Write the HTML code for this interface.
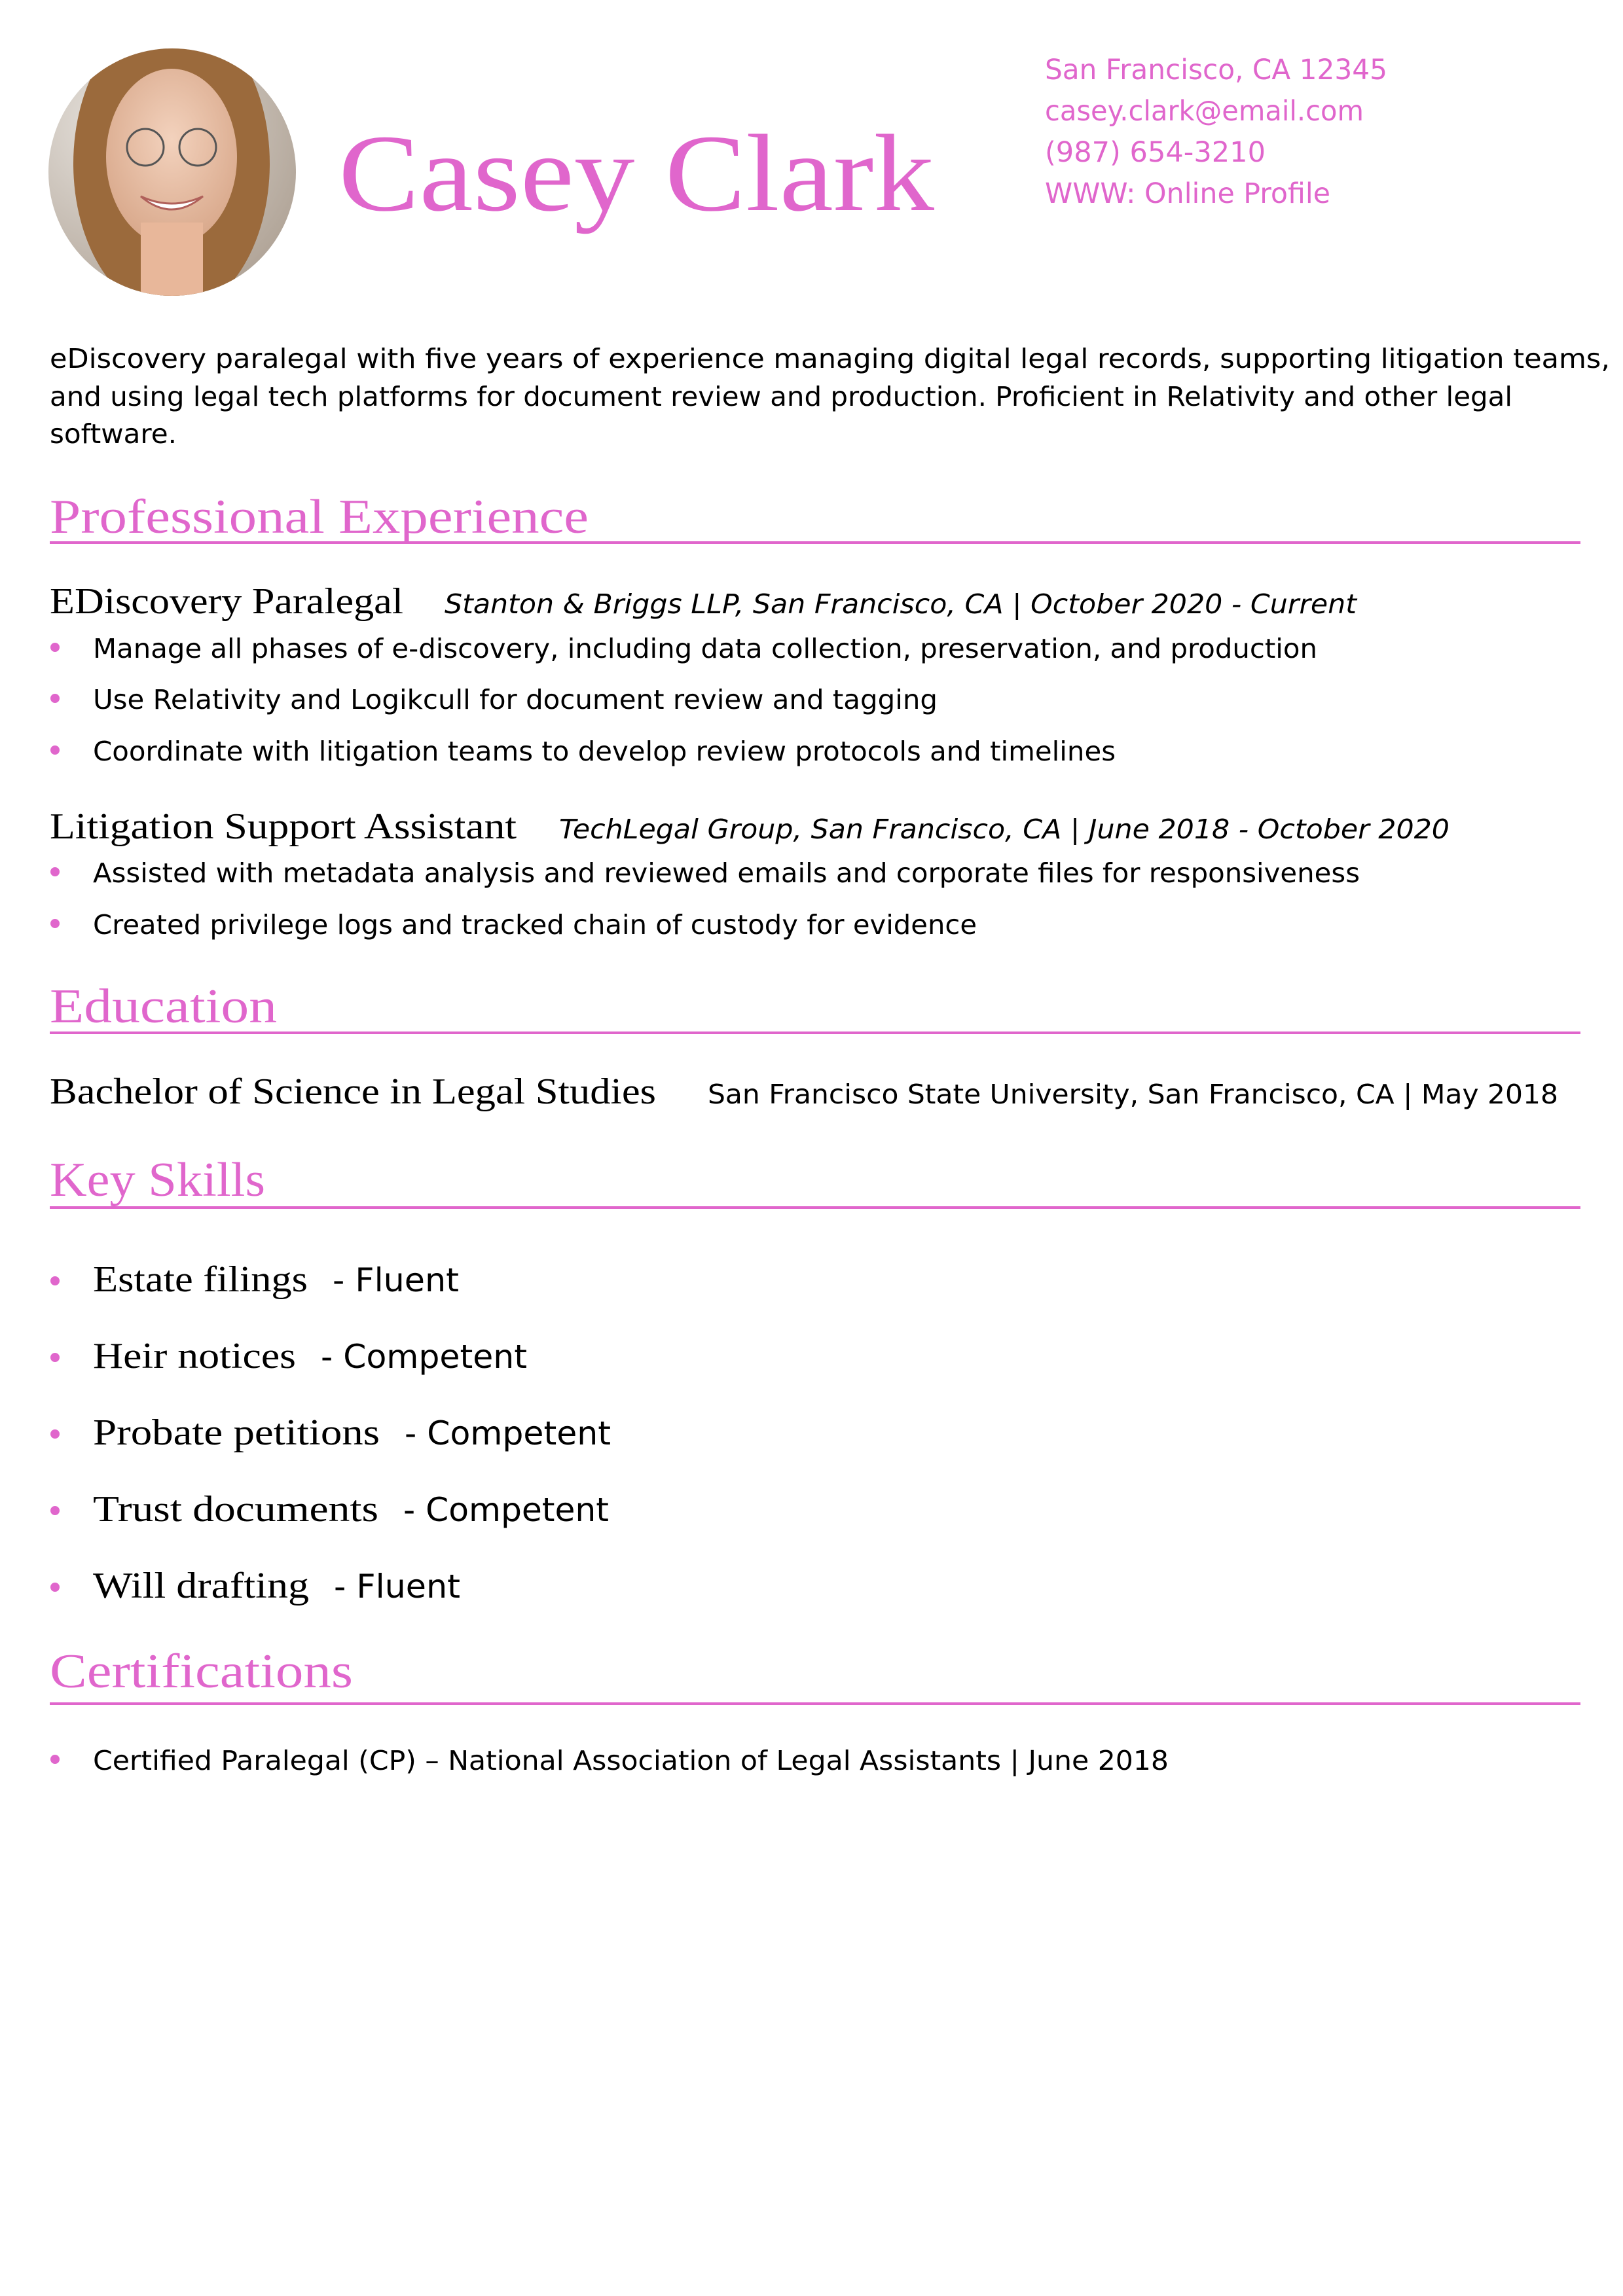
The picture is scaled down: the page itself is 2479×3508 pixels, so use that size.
<!DOCTYPE html>
<html><head><meta charset="utf-8"><style>
html,body{margin:0;padding:0;background:#fff;}
svg{display:block;}
.s{font-family:"Liberation Serif",serif;}
.d{font-family:"DejaVu Sans","Liberation Sans",sans-serif;}
.p{fill:#e066cc;}
</style></head><body>
<svg width="2479" height="3508" viewBox="0 0 2479 3508" xmlns="http://www.w3.org/2000/svg">
<defs>
<clipPath id="c"><circle cx="263" cy="263" r="189"/></clipPath>
<radialGradient id="bg" cx="0.3" cy="0.3" r="0.9"><stop offset="0" stop-color="#e8e4df"/><stop offset="1" stop-color="#a89a8c"/></radialGradient>
<radialGradient id="sk" cx="0.5" cy="0.4" r="0.6"><stop offset="0" stop-color="#f3d2bd"/><stop offset="1" stop-color="#d9a98c"/></radialGradient>
</defs>
<g clip-path="url(#c)">
<rect x="70" y="70" width="390" height="390" fill="url(#bg)"/>
<ellipse cx="262" cy="250" rx="150" ry="230" fill="#9b6a3c"/>
<ellipse cx="262" cy="240" rx="100" ry="135" fill="url(#sk)"/>
<rect x="215" y="340" width="95" height="130" fill="#e8b79a"/>
<circle cx="222" cy="225" r="28" fill="none" stroke="#555" stroke-width="3"/>
<circle cx="302" cy="225" r="28" fill="none" stroke="#555" stroke-width="3"/>
<path d="M215 300 Q262 340 310 300 Q262 322 215 300Z" fill="#fff" stroke="#b0605a" stroke-width="3"/>
</g>
<text class="s p" x="517" y="321" font-size="168" textLength="910" lengthAdjust="spacingAndGlyphs">Casey Clark</text>
<g class="d p" font-size="43">
<text x="1596" y="121" textLength="523" lengthAdjust="spacingAndGlyphs">San Francisco, CA 12345</text>
<text x="1596" y="184" textLength="487" lengthAdjust="spacingAndGlyphs">casey.clark@email.com</text>
<text x="1596" y="247" textLength="337" lengthAdjust="spacingAndGlyphs">(987) 654-3210</text>
<text x="1596" y="310" textLength="436" lengthAdjust="spacingAndGlyphs">WWW: Online Profile</text>
</g>
<g class="d" font-size="41" fill="#000">
<text x="76" y="562" textLength="2383" lengthAdjust="spacingAndGlyphs">eDiscovery paralegal with five years of experience managing digital legal records, supporting litigation teams,</text>
<text x="76" y="620" textLength="2234" lengthAdjust="spacingAndGlyphs">and using legal tech platforms for document review and production. Proficient in Relativity and other legal</text>
<text x="76" y="677" textLength="194" lengthAdjust="spacingAndGlyphs">software.</text>
</g>
<g class="s p" font-size="74">
<text x="76" y="814" textLength="823" lengthAdjust="spacingAndGlyphs">Professional Experience</text>
<text x="76" y="1562" textLength="347" lengthAdjust="spacingAndGlyphs">Education</text>
<text x="76" y="1827" textLength="329" lengthAdjust="spacingAndGlyphs">Key Skills</text>
<text x="76" y="2578" textLength="463" lengthAdjust="spacingAndGlyphs">Certifications</text>
</g>
<g fill="#e066cc">
<rect x="76" y="827" width="2338" height="4"/>
<rect x="76" y="1576" width="2338" height="4"/>
<rect x="76" y="1843" width="2338" height="4"/>
<rect x="76" y="2601" width="2338" height="4"/>
<circle cx="84" cy="989" r="7"/><circle cx="84" cy="1067" r="7"/><circle cx="84" cy="1146" r="7"/>
<circle cx="84" cy="1332" r="7"/><circle cx="84" cy="1411" r="7"/>
<circle cx="84" cy="1957" r="7"/><circle cx="84" cy="2074" r="7"/><circle cx="84" cy="2191" r="7"/><circle cx="84" cy="2308" r="7"/><circle cx="84" cy="2425" r="7"/>
<circle cx="84" cy="2688" r="7"/>
</g>
<g class="s" font-size="56" fill="#000">
<text x="76" y="937" textLength="540" lengthAdjust="spacingAndGlyphs">EDiscovery Paralegal</text>
<text x="76" y="1281" textLength="713" lengthAdjust="spacingAndGlyphs">Litigation Support Assistant</text>
<text x="76" y="1686" textLength="926" lengthAdjust="spacingAndGlyphs">Bachelor of Science in Legal Studies</text>
<text x="142" y="1973" textLength="328" lengthAdjust="spacingAndGlyphs">Estate filings</text>
<text x="142" y="2090" textLength="310" lengthAdjust="spacingAndGlyphs">Heir notices</text>
<text x="142" y="2207" textLength="438" lengthAdjust="spacingAndGlyphs">Probate petitions</text>
<text x="142" y="2324" textLength="436" lengthAdjust="spacingAndGlyphs">Trust documents</text>
<text x="142" y="2441" textLength="330" lengthAdjust="spacingAndGlyphs">Will drafting</text>
</g>
<g class="d" font-size="50" fill="#000">
<text x="508" y="1973" textLength="193" lengthAdjust="spacingAndGlyphs">- Fluent</text>
<text x="490" y="2090" textLength="315" lengthAdjust="spacingAndGlyphs">- Competent</text>
<text x="618" y="2207" textLength="315" lengthAdjust="spacingAndGlyphs">- Competent</text>
<text x="616" y="2324" textLength="314" lengthAdjust="spacingAndGlyphs">- Competent</text>
<text x="510" y="2441" textLength="193" lengthAdjust="spacingAndGlyphs">- Fluent</text>
</g>
<g class="d" font-size="41" fill="#000">
<text x="679" y="937" font-style="italic" textLength="1393" lengthAdjust="spacingAndGlyphs">Stanton &amp; Briggs LLP, San Francisco, CA | October 2020 - Current</text>
<text x="854" y="1281" font-style="italic" textLength="1360" lengthAdjust="spacingAndGlyphs">TechLegal Group, San Francisco, CA | June 2018 - October 2020</text>
<text x="142" y="1005" textLength="1870" lengthAdjust="spacingAndGlyphs">Manage all phases of e-discovery, including data collection, preservation, and production</text>
<text x="142" y="1083" textLength="1290" lengthAdjust="spacingAndGlyphs">Use Relativity and Logikcull for document review and tagging</text>
<text x="142" y="1162" textLength="1562" lengthAdjust="spacingAndGlyphs">Coordinate with litigation teams to develop review protocols and timelines</text>
<text x="142" y="1348" textLength="1935" lengthAdjust="spacingAndGlyphs">Assisted with metadata analysis and reviewed emails and corporate files for responsiveness</text>
<text x="142" y="1427" textLength="1350" lengthAdjust="spacingAndGlyphs">Created privilege logs and tracked chain of custody for evidence</text>
<text x="1081" y="1686" textLength="1299" lengthAdjust="spacingAndGlyphs">San Francisco State University, San Francisco, CA | May 2018</text>
<text x="142" y="2704" textLength="1643" lengthAdjust="spacingAndGlyphs">Certified Paralegal (CP) – National Association of Legal Assistants | June 2018</text>
</g>
</svg>
</body></html>
